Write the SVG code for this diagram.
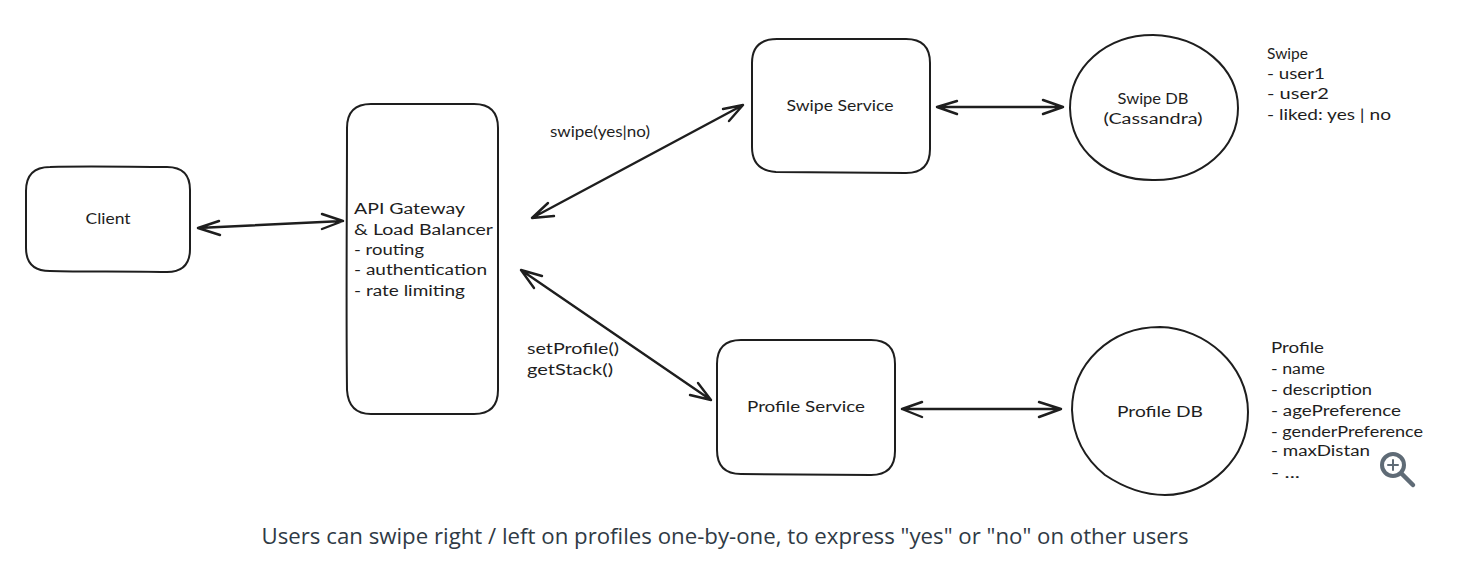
<svg xmlns="http://www.w3.org/2000/svg" width="1484" height="576" viewBox="0 0 1484 576">
<style>
.s{fill:none;stroke:#1e1e1e;stroke-width:2;stroke-linecap:round;stroke-linejoin:round}
.a{stroke-width:2.4}
.t{font-family:"Lato","Liberation Sans",sans-serif;font-size:15.5px;fill:#1e1e1e}
.m{text-anchor:middle}
.cap{font-family:"Open Sans","Liberation Sans",sans-serif;font-size:22px;fill:#2f3a45}
</style>
<rect width="1484" height="576" fill="#fff"/>
<g id="connectors" class="s a">
<path d="M198 228L343 221M219 221L198 228L220 235M322 214L343 221L322 229"/>
<path d="M532 218L743 105M548 203L532 218L554 216M723 109L743 105L729 121"/>
<path d="M521 270L711 400M542 276L521 270L534 288M690 395L711 400L698 383"/>
<path d="M937 107L1063 107M957 101L937 107L957 114M1043 100L1063 107L1043 114"/>
<path d="M902 409L1061 409M922 402L902 409L922 417M1039 402L1061 409L1039 417"/>
</g>
<g id="client"><path class="s" d="M50 167C90 166 130 167 167 167C183 167 190 175 190 190L190 249C190 264 183 272 167 272C125 271 85 272 50 271C34 271 26 263 26 248L26 191C26 175 34 167 50 167Z"/>
<text class="t m" x="108" y="224" textLength="45" lengthAdjust="spacingAndGlyphs">Client</text></g>
<g id="gateway"><path class="s" d="M371 104L474 104C490 104 498 112 498 128L498 390C498 406 490 414 474 414L371 414C356 414 348 406 347 390C346 300 347 210 347 128C347 112 355 104 371 104Z"/>
<g class="t">
<text x="354" y="214" textLength="111" lengthAdjust="spacingAndGlyphs">API Gateway</text>
<text x="354" y="235" textLength="139" lengthAdjust="spacingAndGlyphs">&amp; Load Balancer</text>
<text x="354" y="255" textLength="70" lengthAdjust="spacingAndGlyphs">- routing</text>
<text x="354" y="275" textLength="133" lengthAdjust="spacingAndGlyphs">- authentication</text>
<text x="354" y="296" textLength="111" lengthAdjust="spacingAndGlyphs">- rate limiting</text>
</g></g>
<g id="swipe-service"><path class="s" d="M777 39L906 39C922 39 930 47 930 63L930 149C930 165 922 173 906 173L776 172C760 171 752 163 752 147L752 63C752 47 761 39 777 39Z"/>
<text class="t m" x="840" y="111" textLength="107" lengthAdjust="spacingAndGlyphs">Swipe Service</text></g>
<g id="profile-service"><path class="s" d="M741 340L871 340C887 340 895 348 895 364L895 451C895 467 887 475 871 475L741 474C725 474 717 466 717 450L717 364C717 348 725 340 741 340Z"/>
<text class="t m" x="806" y="412" textLength="118" lengthAdjust="spacingAndGlyphs">Profile Service</text></g>
<g id="swipe-db"><path class="s" d="M1070 108C1070 68 1105 35 1153 35C1200 36 1238 68 1238 108C1238 148 1202 180 1155 180C1106 181 1071 150 1070 108Z"/>
<text class="t m" x="1153" y="104" textLength="71" lengthAdjust="spacingAndGlyphs">Swipe DB</text>
<text class="t m" x="1153" y="124" textLength="99" lengthAdjust="spacingAndGlyphs">(Cassandra)</text></g>
<g id="profile-db"><path class="s" d="M1072 410C1072 364 1110 327 1160 327C1205 328 1248 365 1248 412C1248 458 1210 495 1165 495C1140 495 1120 485 1105 475C1084 458 1073 436 1072 410Z"/>
<text class="t m" x="1160" y="417" textLength="86" lengthAdjust="spacingAndGlyphs">Profile DB</text></g>
<g id="labels" class="t">
<text x="550" y="137" textLength="100" lengthAdjust="spacingAndGlyphs">swipe(yes|no)</text>
<text x="527" y="354" textLength="92" lengthAdjust="spacingAndGlyphs">setProfile()</text>
<text x="527" y="375" textLength="86" lengthAdjust="spacingAndGlyphs">getStack()</text>
<text x="1267" y="59" textLength="41" lengthAdjust="spacingAndGlyphs">Swipe</text>
<text x="1267" y="79" textLength="58" lengthAdjust="spacingAndGlyphs">- user1</text>
<text x="1267" y="99" textLength="62" lengthAdjust="spacingAndGlyphs">- user2</text>
<text x="1267" y="120" textLength="124" lengthAdjust="spacingAndGlyphs">- liked: yes | no</text>
<text x="1271" y="353" textLength="53" lengthAdjust="spacingAndGlyphs">Profile</text>
<text x="1271" y="374" textLength="54" lengthAdjust="spacingAndGlyphs">- name</text>
<text x="1271" y="395" textLength="101" lengthAdjust="spacingAndGlyphs">- description</text>
<text x="1271" y="416" textLength="130" lengthAdjust="spacingAndGlyphs">- agePreference</text>
<text x="1271" y="437" textLength="152" lengthAdjust="spacingAndGlyphs">- genderPreference</text>
<text x="1271" y="456" textLength="99" lengthAdjust="spacingAndGlyphs">- maxDistan</text>
<text x="1271" y="478" textLength="29" lengthAdjust="spacingAndGlyphs">- ...</text>
</g>
<g id="zoom-icon" fill="none" stroke="#5f6b76" stroke-width="4" stroke-linecap="round">
<circle cx="1393" cy="465" r="11" fill="#fff" fill-opacity=".7"/>
<path d="M1402 474L1413 485" stroke-width="4.5"/>
<path d="M1388 465L1398 465M1393 460L1393 470" stroke-width="2"/>
</g>
<text id="caption" class="cap" x="725" y="544" text-anchor="middle" textLength="927" lengthAdjust="spacingAndGlyphs">Users can swipe right / left on profiles one-by-one, to express "yes" or "no" on other users</text>
</svg>
